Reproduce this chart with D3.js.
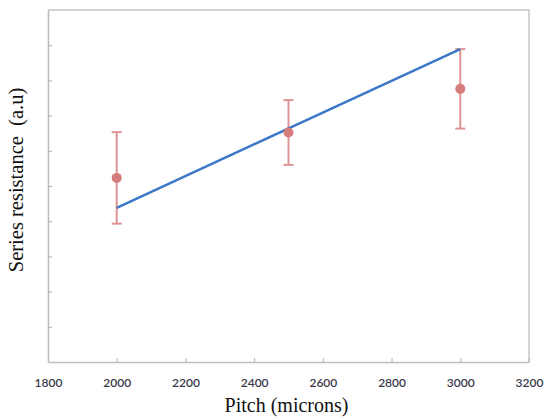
<!DOCTYPE html>
<html>
<head>
<meta charset="utf-8">
<script src="https://cdn.jsdelivr.net/npm/d3@7"></script>
<style>
  html, body { margin: 0; padding: 0; background: #fff; }
  svg { display: block; }
</style>
</head>
<body>
<svg id="chart" width="544" height="418"></svg>
<script>
// Measured series resistance per pitch, with error bars
const pitch = [2000, 2500, 3000];
const resistance = [5.23, 6.52, 7.76];
const errors = [1.30, 0.92, 1.13];

// Model line
const linePitch = [2000, 3000];
const lineResistance = [4.38, 8.89];

// Axis ticks
const xTicks = [1800, 2000, 2200, 2400, 2600, 2800, 3000, 3200];
const yTicks = [0, 1, 2, 3, 4, 5, 6, 7, 8, 9, 10];

const svg = d3.select("#chart");
const margin = { left: 48, right: 15, top: 10, bottom: 56 };
const W = 544, H = 418;

const x = d3.scaleLinear().domain([1800, 3200]).range([margin.left, W - margin.right]);
const y = d3.scaleLinear().domain([0, 10]).range([H - margin.bottom, margin.top]);

// Plot area border (top and right)
svg.append("path")
  .attr("d", `M${x(1800)},${y(10)}H${x(3200)}V${y(0)}`)
  .attr("fill", "none").attr("stroke", "#c6c6c6").attr("stroke-width", 1.5);

// X axis with inward ticks
const xAxis = svg.append("g")
  .attr("transform", `translate(0,${y(0)})`)
  .call(d3.axisBottom(x).tickValues(xTicks).tickSizeInner(-4).tickSizeOuter(0).tickPadding(16).tickFormat(d3.format("d")));
xAxis.select(".domain").attr("stroke", "#bdbdbd").attr("stroke-width", 1.6);
xAxis.selectAll(".tick line").attr("stroke", "#b0b0b0");
xAxis.selectAll(".tick text")
  .attr("fill", "#3a3a4a")
  .style("font-family", "Lato, 'Open Sans', sans-serif")
  .style("font-size", "12px")
  .style("font-weight", "600");

// Y axis with inward ticks, unlabeled
const yAxis = svg.append("g")
  .attr("transform", `translate(${x(1800)},0)`)
  .call(d3.axisLeft(y).tickValues(yTicks.slice(1, -1)).tickSizeInner(-4).tickSizeOuter(0).tickFormat(""));
yAxis.select(".domain").attr("stroke", "#bdbdbd").attr("stroke-width", 1.6);
yAxis.selectAll(".tick line").attr("stroke", "#b0b0b0");

// Error bars
const errColor = "#de9494";
const capHalf = 5;
const eb = svg.append("g");
pitch.forEach((p, i) => {
  const cx = x(p), lo = y(resistance[i] - errors[i]), hi = y(resistance[i] + errors[i]);
  eb.append("line").attr("x1", cx).attr("x2", cx).attr("y1", lo).attr("y2", hi)
    .attr("stroke", errColor).attr("stroke-width", 2);
  [lo, hi].forEach(yy => eb.append("line")
    .attr("x1", cx - capHalf).attr("x2", cx + capHalf).attr("y1", yy).attr("y2", yy)
    .attr("stroke", errColor).attr("stroke-width", 2));
});

// Model line
const lineData = linePitch.map((p, i) => [p, lineResistance[i]]);
svg.append("path")
  .datum(lineData)
  .attr("d", d3.line().x(d => x(d[0])).y(d => y(d[1])))
  .attr("fill", "none").attr("stroke", "#3c78c8").attr("stroke-width", 2.5);

// Markers
svg.append("g").selectAll("circle")
  .data(pitch.map((p, i) => [p, resistance[i]]))
  .join("circle")
  .attr("cx", d => x(d[0])).attr("cy", d => y(d[1])).attr("r", 5)
  .attr("fill", "#d47c7c");

// Axis titles
svg.append("text")
  .attr("x", (x(1800) + x(3200)) / 2 - 2).attr("y", 412)
  .attr("text-anchor", "middle")
  .style("font-family", "'Liberation Serif', 'DejaVu Serif', serif")
  .style("font-size", "20px").attr("fill", "#111")
  .text("Pitch (microns)");

svg.append("text")
  .attr("transform", `translate(23,${(y(0) + y(10)) / 2 - 6}) rotate(-90)`)
  .attr("text-anchor", "middle")
  .style("font-family", "'Liberation Serif', 'DejaVu Serif', serif")
  .style("font-size", "20.5px").attr("fill", "#111")
  .style("white-space", "pre")
  .text("Series resistance  (a.u)");
</script>
</body>
</html>
